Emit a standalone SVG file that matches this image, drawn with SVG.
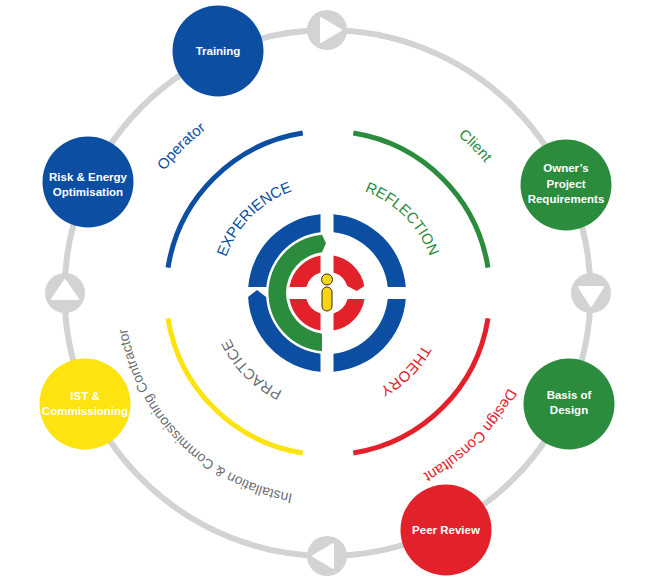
<svg xmlns="http://www.w3.org/2000/svg" xmlns:xlink="http://www.w3.org/1999/xlink" width="657" height="585" viewBox="0 0 657 585">
<style>
.ring{fill:none;stroke:#d1d3d4;stroke-width:6}
.arrowc{fill:#d1d3d4}
.tri{fill:#fff;stroke:#fff;stroke-width:2;stroke-linejoin:round}
.arc{fill:none;stroke-width:5}
.nt{font-family:"Liberation Sans",Arial,sans-serif;font-weight:bold;font-size:11.5px;fill:#fff;text-anchor:middle}
.il{font-family:"Liberation Sans",Arial,sans-serif;font-size:15px;text-anchor:middle}
.ol{font-family:"Liberation Sans",Arial,sans-serif;font-size:15px;text-anchor:middle}
.blue{fill:#0b4ea2}.green{fill:#2b8c3e}.red{fill:#e3212a}.yellow{fill:#fde30f}.grey{fill:#6d6e71}
</style>
<defs>
<path id="innerPath" d="M436,293 A108,108 0 1 1 220,293 A108,108 0 1 1 436,293"/>
<path id="outerPath" d="M532,293 A204,204 0 1 1 124,293 A204,204 0 1 1 532,293"/>
</defs>
<rect width="657" height="585" fill="#fff"/>
<g id="connectors">
<circle class="ring" cx="327.5" cy="293" r="263"/>
<circle class="arrowc" cx="327" cy="30" r="20"/>
<polygon class="tri" points="321,18 321,42 341,30"/>
<circle class="arrowc" cx="591" cy="293" r="20"/>
<polygon class="tri" points="579,287 603,287 591,306"/>
<circle class="arrowc" cx="327" cy="556" r="20"/>
<polygon class="tri" points="333,544 333,568 313,556"/>
<circle class="arrowc" cx="65" cy="293" r="20"/>
<polygon class="tri" points="65,280 52,299 78,299"/>
</g>
<g id="phase-arcs">
<path class="arc" stroke="#0b4ea2" d="M168,267.7 A162,162 0 0 1 302.7,133"/>
<path class="arc" stroke="#2b8c3e" d="M353.3,133 A162,162 0 0 1 488,267.7"/>
<path class="arc" stroke="#e3212a" d="M488,318.3 A162,162 0 0 1 353.3,453"/>
<path class="arc" stroke="#fde30f" d="M302.7,453 A162,162 0 0 1 168,318.3"/>
</g>
<g id="inner-labels">
<text class="il blue"><textPath xlink:href="#innerPath" href="#innerPath" startOffset="62.5%">EXPERIENCE</textPath></text>
<text class="il green"><textPath xlink:href="#innerPath" href="#innerPath" startOffset="87.5%">REFLECTION</textPath></text>
<text class="il red"><textPath xlink:href="#innerPath" href="#innerPath" startOffset="12.5%">THEORY</textPath></text>
<text class="il grey"><textPath xlink:href="#innerPath" href="#innerPath" startOffset="37.5%">PRACTICE</textPath></text>
</g>
<g id="outer-labels">
<text class="ol blue"><textPath xlink:href="#outerPath" href="#outerPath" startOffset="62.5%">Operator</textPath></text>
<text class="ol green"><textPath xlink:href="#outerPath" href="#outerPath" startOffset="87.5%">Client</textPath></text>
<text class="ol red"><textPath xlink:href="#outerPath" href="#outerPath" startOffset="12.5%">Design Consultant</textPath></text>
<text class="ol grey" style="font-size:14px"><textPath xlink:href="#outerPath" href="#outerPath" startOffset="37.5%">Installation &amp; Commissioning Contractor</textPath></text>
</g>
<g id="center-icon">
<g class="blue">
<path d="M333.5,214.27 A79,79 0 0 1 405.77,287 L387.7,287 A61,61 0 0 0 333.5,232.35 Z"/>
<path d="M405.77,299 A79,79 0 0 1 333.5,371.73 L333.5,353.65 A61,61 0 0 0 387.7,299 Z"/>
<path d="M320.5,371.73 A79,79 0 0 1 248.1,297 L257.06,290 L266.13,297 A61,61 0 0 0 320.5,353.65 Z"/>
<path d="M248.23,287 A79,79 0 0 1 320.5,214.27 L320.5,232.35 A61,61 0 0 0 266.3,287 Z"/>
</g>
<path class="green" d="M322,351.29 A58.5,58.5 0 0 1 322,234.71 L326,243.3 L322,252.31 A41,41 0 0 0 322,333.69 Z"/>
<g class="red">
<path d="M289.48,287 A38,38 0 0 1 320.5,255.56 L320.5,272.51 A21.5,21.5 0 0 0 306.35,287 Z"/>
<path d="M333.5,255.56 A38,38 0 0 1 364.35,286 L356.68,291 L347.33,286 A21.5,21.5 0 0 0 333.5,272.51 Z"/>
<path d="M364.52,299 A38,38 0 0 1 333.5,330.44 L333.5,313.49 A21.5,21.5 0 0 0 347.65,299 Z"/>
<path d="M320.5,330.44 A38,38 0 0 1 289.48,299 L306.35,299 A21.5,21.5 0 0 0 320.5,313.49 Z"/>
</g>
<circle cx="327" cy="279.5" r="5.5" fill="#f7d417" stroke="#3a2a10" stroke-width="1"/>
<rect x="322" y="287" width="10" height="24" rx="5" fill="#f7d417" stroke="#3a2a10" stroke-width="1"/>
</g>
<g id="node-training">
<circle class="blue" cx="218" cy="51" r="45.5"/>
<text class="nt" x="218" y="55">Training</text>
</g>
<g id="node-risk">
<circle class="blue" cx="88" cy="182" r="45.5"/>
<text class="nt" x="88" y="181">Risk &amp; Energy</text>
<text class="nt" x="88" y="196">Optimisation</text>
</g>
<g id="node-opr">
<circle class="green" cx="566" cy="185" r="45.5"/>
<text class="nt" x="566" y="172">Owner’s</text>
<text class="nt" x="566" y="187.5">Project</text>
<text class="nt" x="566" y="203">Requirements</text>
</g>
<g id="node-bod">
<circle class="green" cx="569" cy="404" r="45.5"/>
<text class="nt" x="569" y="398.5">Basis of</text>
<text class="nt" x="569" y="414">Design</text>
</g>
<g id="node-peer">
<circle class="red" cx="446" cy="530" r="45.5"/>
<text class="nt" x="446" y="534">Peer Review</text>
</g>
<g id="node-ist">
<circle class="yellow" cx="85" cy="404" r="45.5"/>
<text class="nt" x="85" y="400">IST &amp;</text>
<text class="nt" x="85" y="415">Commissioning</text>
</g>
</svg>
